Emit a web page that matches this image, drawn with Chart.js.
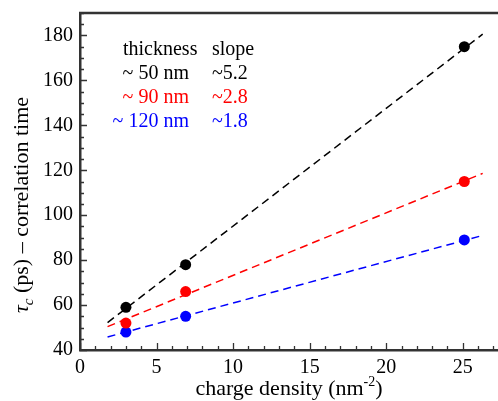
<!DOCTYPE html>
<html>
<head>
<meta charset="utf-8">
<script src="https://cdn.jsdelivr.net/npm/chart.js@4/dist/chart.umd.min.js"></script>
<style>
  html, body { margin: 0; padding: 0; background: #fff; }
  #wrap { width: 498px; height: 401px; }
</style>
</head>
<body>
<div id="wrap"><canvas id="tauChart" width="498" height="401"></canvas></div>
<script>
  'use strict';

  // measured correlation times vs. charge density, one array per film thickness
  const densities = [3.0, 6.9, 25.1];
  const tau50 = [59, 78, 175];
  const tau90 = [52, 66, 115];
  const tau120 = [48, 55, 89];

  // linear fits, evaluated at the two ends of the fitted range
  const fitX = [1.8, 26.3];
  const fit50 = [52.2, 180.6];
  const fit90 = [50.4, 118.6];
  const fit120 = [45.8, 91.0];

  const thicknessLabels = ['~ 50 nm', '~ 90 nm', '~ 120 nm'];
  const slopeLabels = ['~5.2', '~2.8', '~1.8'];
  const seriesColors = ['#000000', '#ff0000', '#0000ff'];

  const xTickStep = 5;
  const yTickStep = 20;

  const SERIF = '"Liberation Serif", "DejaVu Serif", serif';
  const AXIS_COLOR = '#333333';

  const toPoints = (xs, ys) => xs.map((x, i) => ({ x, y: ys[i] }));

  function fitDataset(ys, color) {
    return {
      type: 'line', data: toPoints(fitX, ys), borderColor: color, borderWidth: 1.5,
      borderDash: [8, 5], pointRadius: 0, fill: false, tension: 0, order: 2,
    };
  }

  function pointDataset(ys, color) {
    return {
      type: 'scatter', data: toPoints(densities, ys), backgroundColor: color, borderColor: color,
      borderWidth: 0, pointRadius: 5.5, pointHoverRadius: 5.5, order: 1, clip: false,
    };
  }

  // the plot box is fixed, so drop the label overhang padding chart.js adds
  function noOverhang(scale) {
    scale.paddingLeft = 0;
    scale.paddingRight = 0;
    scale.paddingTop = 0;
    scale.paddingBottom = 0;
  }

  // inward tick marks, top frame line, axis titles and the thickness/slope table
  const decorations = {
    id: 'decorations',
    afterDraw(chart) {
      const { ctx, chartArea: a, scales: { x, y } } = chart;
      ctx.save();
      ctx.strokeStyle = AXIS_COLOR;
      ctx.lineWidth = 1.3;
      ctx.beginPath();
      for (let v = 0; v <= x.max; v += 1) {
        const px = Math.round(x.getPixelForValue(v)) + 0.5;
        const len = v % 5 === 0 ? 7 : 4;
        ctx.moveTo(px, a.bottom);
        ctx.lineTo(px, a.bottom - len);
      }
      for (let v = y.min; v <= y.max; v += 5) {
        const py = Math.round(y.getPixelForValue(v)) + 0.5;
        const len = v % 20 === 0 ? 7 : 4;
        ctx.moveTo(a.left, py);
        ctx.lineTo(a.left + len, py);
      }
      ctx.stroke();

      ctx.lineWidth = 2.5;
      ctx.beginPath();
      ctx.moveTo(a.left - 1, a.top);
      ctx.lineTo(a.right, a.top);
      ctx.stroke();

      // x axis title with superscript exponent
      ctx.fillStyle = '#000';
      ctx.textBaseline = 'alphabetic';
      const xMain = 'charge density (nm';
      const xSup = '-2';
      const xEnd = ')';
      ctx.font = `22px ${SERIF}`;
      const wMain = ctx.measureText(xMain).width;
      const wEnd = ctx.measureText(xEnd).width;
      ctx.font = `14px ${SERIF}`;
      const wSup = ctx.measureText(xSup).width;
      let tx = (a.left + a.right) / 2 - (wMain + wSup + wEnd) / 2;
      const tyBase = 395;
      ctx.font = `22px ${SERIF}`;
      ctx.textAlign = 'left';
      ctx.fillText(xMain, tx, tyBase);
      tx += wMain;
      ctx.font = `14px ${SERIF}`;
      ctx.fillText(xSup, tx, tyBase - 9);
      tx += wSup;
      ctx.font = `22px ${SERIF}`;
      ctx.fillText(xEnd, tx, tyBase);

      // y axis title, rotated, with italic tau and subscript c
      ctx.save();
      ctx.translate(28, 205);
      ctx.rotate(-Math.PI / 2);
      const parts = [
        { text: 'τ', font: `italic 22px ${SERIF}`, dy: 0 },
        { text: 'c', font: `italic 15px ${SERIF}`, dy: 5 },
        { text: ' (ps) – correlation time', font: `22px ${SERIF}`, dy: 0 },
      ];
      let total = 0;
      parts.forEach((p) => { ctx.font = p.font; p.w = ctx.measureText(p.text).width; total += p.w; });
      let px = -total / 2;
      parts.forEach((p) => {
        ctx.font = p.font;
        ctx.fillText(p.text, px, p.dy);
        px += p.w;
      });
      ctx.restore();

      // thickness / slope table
      ctx.font = `20px ${SERIF}`;
      ctx.fillStyle = '#000';
      ctx.textAlign = 'left';
      ctx.fillText('thickness', 123, 55);
      ctx.fillText('slope', 212, 55);
      const rowBase = [79, 103, 127];
      thicknessLabels.forEach((label, i) => {
        ctx.fillStyle = seriesColors[i];
        ctx.textAlign = 'right';
        ctx.fillText(label, 189, rowBase[i]);
        ctx.textAlign = 'left';
        ctx.fillText(slopeLabels[i], 212, rowBase[i]);
      });
      ctx.restore();
    },
  };

  new Chart(document.getElementById('tauChart'), {
    data: {
      datasets: [
        fitDataset(fit50, seriesColors[0]),
        fitDataset(fit90, seriesColors[1]),
        fitDataset(fit120, seriesColors[2]),
        pointDataset(tau50, seriesColors[0]),
        pointDataset(tau90, seriesColors[1]),
        pointDataset(tau120, seriesColors[2]),
      ],
    },
    options: {
      responsive: false, animation: false, devicePixelRatio: 1,
      layout: { autoPadding: false, padding: { top: 13, right: 0, left: 0, bottom: 0 } },
      plugins: { legend: { display: false }, tooltip: { enabled: false } },
      scales: {
        x: {
          type: 'linear', min: 0, max: 27.3,
          ticks: { stepSize: xTickStep, includeBounds: false, color: '#000', padding: 6, maxRotation: 0, font: { family: SERIF, size: 20 } },
          grid: { display: false, drawTicks: false },
          border: { display: true, color: AXIS_COLOR, width: 2.5 },
          afterFit: (scale) => { scale.height = 51; noOverhang(scale); },
        },
        y: {
          type: 'linear', min: 40, max: 190,
          ticks: { stepSize: yTickStep, includeBounds: false, color: '#000', padding: 7, font: { family: SERIF, size: 20 } },
          grid: { display: false, drawTicks: false },
          border: { display: true, color: AXIS_COLOR, width: 2.5 },
          afterFit: (scale) => { scale.width = 80; noOverhang(scale); },
        },
      },
    },
    plugins: [decorations],
  });
</script>
</body>
</html>
